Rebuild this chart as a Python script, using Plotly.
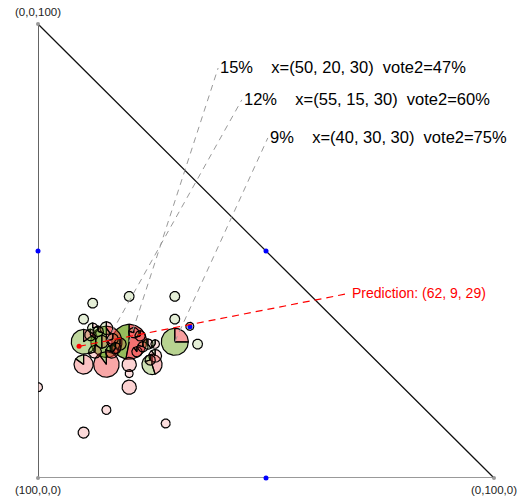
import numpy as np
import plotly.graph_objects as go

# ---- data: compositions (a, b, c), weight in %, vote2 in % ----
comp_a = [50, 55, 40, 60, 60, 50, 65, 55, 60, 80, 80, 70, 60, 57,
          49.5, 40, 30, 35, 55, 35.5, 33.3,
          55, 54.5, 52, 56, 53, 54.4, 59.7, 56, 47, 46.3, 50.5, 48.1, 46.4, 44.8, 47.4, 49.4,
          57, 52.5]
comp_b = [20, 15, 30, 15, 10, 25, 10, 20, 20, 10, 0, 15, 28, 20,
          12, 20, 30, 30, 10, 35, 33.3,
          12, 13.2, 15, 14, 16.4, 17, 12.5, 16.2, 21, 22.4, 21.7, 23, 24.1, 25.7, 25.7, 24.6,
          11.5, 18]
comp_c = [30, 30, 30, 25, 30, 25, 25, 25, 20, 10, 20, 15, 12, 23,
          38.5, 40, 40, 35, 35, 29.5, 33.4,
          33, 32.3, 33, 30, 30.6, 28.6, 27.8, 27.8, 32, 31.3, 27.8, 28.9, 29.5, 29.5, 26.9, 26,
          31.5, 29.5]
weight = [15, 12, 9, 8, 7.5, 5, 4.5, 2.5, 2.5, 1.5, 1, 1, 1, 0.8,
          1.2, 1.2, 1.2, 1.2, 1.2, 1.2, 0.8,
          1.3, 1.3, 2, 2, 1.5, 1.5, 2, 2, 1.3, 1.3, 1.3, 1.3, 1.3, 0.9, 2, 1.3,
          1.6, 1.8]
vote2 = [47, 60, 75, 10, 85, 55, 15, 0, 0, 0, 0, 0, 0, 0,
         100, 100, 100, 100, 100, 100, 100,
         80, 70, 60, 50, 30, 40, 30, 20, 20, 30, 10, 20, 60, 40, 10, 30,
         65, 45]

labelled = [0, 1, 2]  # indices of annotated points
label_pos_b = [39.5, 44.7, 50.4]
label_pos_c = [90.3, 83.3, 74.9]

prediction = (62, 9, 29)
pred_label_b, pred_label_c = 68.4, 40.7

vertex_labels = ["(100,0,0)", "(0,100,0)", "(0,0,100)"]

W, H = 522, 503
ML, MR, MT, MB = 38, 28, 24, 25
pxu_x = (W - ML - MR) / 100.0
pxu_y = (H - MT - MB) / 100.0

GREEN = (110, 165, 30)
RED = (240, 60, 60)

fig = go.Figure()

def rgba(c, a):
    return f"rgba({c[0]},{c[1]},{c[2]},{a:.3f})"

def wedge(cx, cy, r, a0, a1, closed_center):
    n = max(8, int(abs(a1 - a0) / 4))
    ang = np.radians(np.linspace(a0, a1, n))
    xs = list(cx + r / pxu_x * np.cos(ang))
    ys = list(cy + r / pxu_y * np.sin(ang))
    if closed_center:
        xs = [cx] + xs + [cx]
        ys = [cy] + ys + [cy]
    else:
        xs.append(xs[0]); ys.append(ys[0])
    return xs, ys

order = sorted(range(len(weight)), key=lambda i: -weight[i])
for i in order:
    cx, cy = comp_b[i], comp_c[i]
    r = 4.5 * np.sqrt(weight[i])
    alpha = min(0.75, 0.13 + 0.04 * weight[i])
    v = vote2[i] / 100.0
    if v >= 1 or v <= 0:
        col = GREEN if v >= 1 else RED
        xs, ys = wedge(cx, cy, r, 0, 360, False)
        fig.add_trace(go.Scatter(x=xs, y=ys, mode="lines", fill="toself",
                                 fillcolor=rgba(col, alpha),
                                 line=dict(color="black", width=1.2),
                                 hoverinfo="skip", showlegend=False))
    else:
        xs, ys = wedge(cx, cy, r, 90, 90 + 360 * v, True)
        fig.add_trace(go.Scatter(x=xs, y=ys, mode="lines", fill="toself",
                                 fillcolor=rgba(GREEN, alpha),
                                 line=dict(color="black", width=1.2),
                                 hoverinfo="skip", showlegend=False))
        xs, ys = wedge(cx, cy, r, 90 + 360 * v, 450, True)
        fig.add_trace(go.Scatter(x=xs, y=ys, mode="lines", fill="toself",
                                 fillcolor=rgba(RED, alpha),
                                 line=dict(color="black", width=1.2),
                                 hoverinfo="skip", showlegend=False))

# triangle
fig.add_trace(go.Scatter(x=[0, 100], y=[0, 0], mode="lines",
                         line=dict(color="#777", width=1.6), cliponaxis=False,
                         hoverinfo="skip", showlegend=False))
fig.add_trace(go.Scatter(x=[100, 0, 0], y=[0, 100, 0], mode="lines",
                         line=dict(color="#111", width=1.3), cliponaxis=False,
                         hoverinfo="skip", showlegend=False))
fig.add_trace(go.Scatter(x=[0, 100, 0], y=[0, 0, 100], mode="markers",
                         marker=dict(color="#999", size=4), cliponaxis=False,
                         hoverinfo="skip", showlegend=False))
# midpoints and centroid
fig.add_trace(go.Scatter(x=[0, 50, 50, 100 / 3], y=[50, 50, 0, 100 / 3], mode="markers",
                         marker=dict(color="blue", size=5), cliponaxis=False,
                         hoverinfo="skip", showlegend=False))

# gray dashed leader lines
for k, i in enumerate(labelled):
    fig.add_trace(go.Scatter(x=[comp_b[i], label_pos_b[k]], y=[comp_c[i], label_pos_c[k]],
                             mode="lines", line=dict(color="#999", width=1, dash="6px,5px"),
                             hoverinfo="skip", showlegend=False))
    txt = (f"{weight[i]:g}%\u00a0\u00a0\u00a0\u00a0x=({comp_a[i]:g}, {comp_b[i]:g}, {comp_c[i]:g})"
           f"\u00a0\u00a0vote2={vote2[i]:g}%")
    fig.add_annotation(x=label_pos_b[k], y=label_pos_c[k], text=txt, showarrow=False,
                       xanchor="left", yanchor="middle", yshift=1,
                       font=dict(family="Arial, Liberation Sans", size=16.5, color="black"))

# prediction
fig.add_trace(go.Scatter(x=[prediction[1], pred_label_b], y=[prediction[2], pred_label_c],
                         mode="lines", line=dict(color="red", width=1.2, dash="7px,5px"),
                         hoverinfo="skip", showlegend=False))
fig.add_trace(go.Scatter(x=[prediction[1]], y=[prediction[2]], mode="markers",
                         marker=dict(color="red", size=5),
                         hoverinfo="skip", showlegend=False))
fig.add_annotation(x=pred_label_b, y=pred_label_c,
                   text=f"Prediction: ({prediction[0]}, {prediction[1]}, {prediction[2]})",
                   showarrow=False, xanchor="left", yanchor="middle",
                   font=dict(family="Arial, Liberation Sans", size=14, color="red"))

# vertex labels
vfont = dict(family="Arial, Liberation Sans", size=11.5, color="#222")
fig.add_annotation(x=0, y=0, text=vertex_labels[0], showarrow=False, yanchor="top", yshift=-4, font=vfont)
fig.add_annotation(x=100, y=0, text=vertex_labels[1], showarrow=False, yanchor="top", yshift=-4, font=vfont)
fig.add_annotation(x=0, y=100, text=vertex_labels[2], showarrow=False, yanchor="bottom", yshift=4, font=vfont)

fig.update_layout(width=W, height=H, autosize=False,
                  margin=dict(l=ML, r=MR, t=MT, b=MB),
                  paper_bgcolor="white", plot_bgcolor="white",
                  xaxis=dict(range=[0, 100], visible=False, fixedrange=True),
                  yaxis=dict(range=[0, 100], visible=False, fixedrange=True),
                  showlegend=False)

fig.write_html("out.html", config={"displayModeBar": False})
